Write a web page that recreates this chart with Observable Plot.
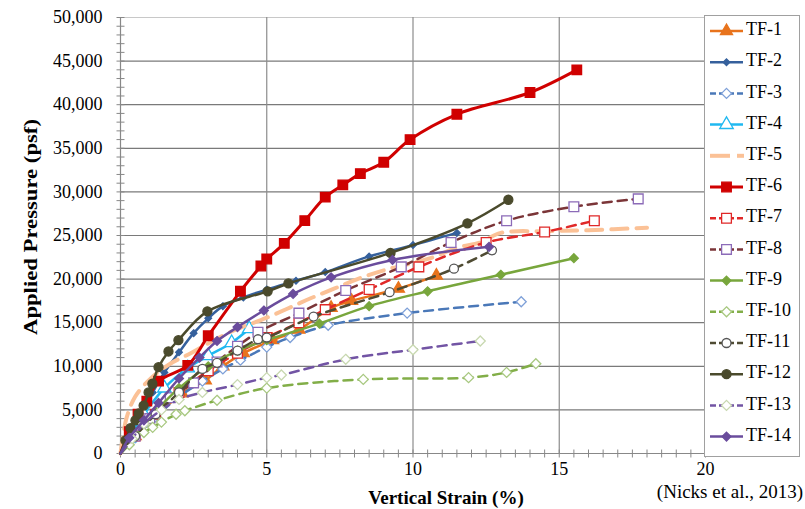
<!DOCTYPE html>
<html>
<head>
<meta charset="utf-8">
<script src="https://cdn.jsdelivr.net/npm/d3@7"></script>
<script src="https://cdn.jsdelivr.net/npm/@observablehq/plot@0.6"></script>
<style>
  html, body { margin: 0; padding: 0; background: #fff; }
  #chart { position: relative; width: 805px; height: 509px; }
  #chart svg text { font-family: "Liberation Serif", "DejaVu Serif", serif; }
</style>
</head>
<body>
<div id="chart"></div>
<script>
// ---------- data (vertical strain %, applied pressure psf) ----------
const tf1  = [[0,0],[0.5,2000],[1.2,4200],[2.1,6900],[2.9,8400],[3.5,10000],[4.2,11500],[5.2,13000],[6.1,14200],[7.2,16700],[7.9,17500],[9.5,18900],[10.8,20400]];
const tf2  = [[0,0],[0.3,2200],[0.7,4500],[1.1,7000],[1.5,9300],[2.0,11600],[2.5,13800],[3.0,15500],[3.5,16900],[4.2,17900],[5.0,18800],[6.0,19800],[7.0,20800],[8.5,22600],[10.0,23900],[11.5,25300]];
const tf3  = [[0,0],[0.5,1800],[1.2,4200],[2.0,6500],[2.8,8300],[3.5,9700],[4.1,10700],[5.0,12200],[5.8,13300],[7.1,14700],[9.8,16100],[13.7,17400]];
const tf4  = [[0,0],[0.3,1800],[0.8,4500],[1.5,7500],[2.3,9800],[3.0,11200],[3.8,12700],[4.4,14300]];
const tf5  = [[0,0],[0.2,4000],[0.5,6500],[1.0,8500],[1.7,10300],[2.4,11500],[3.2,13000],[4.0,14300],[4.8,15300],[5.7,16600],[6.5,17800],[7.3,18900],[8.1,20000],[9.0,21000],[10.6,22400],[11.5,23600],[12.3,24200],[13.0,25300],[14.5,25500],[16.0,25600],[18.0,25900]];
const tf6  = [[0,0],[0.3,2500],[0.6,4500],[0.9,6000],[1.3,8300],[2.3,10100],[3.0,13500],[4.1,18600],[4.8,21500],[5.0,22300],[5.6,24100],[6.3,26700],[7.0,29400],[7.6,30800],[8.2,32100],[9.0,33400],[9.9,36000],[11.5,38900],[14.0,41400],[15.6,44000]];
const tf7  = [[0,0],[0.5,2000],[1.2,4500],[2.0,7000],[3.0,9500],[4.0,11500],[5.0,13300],[6.1,15000],[7.0,16500],[8.5,18800],[10.2,21400],[12.5,24200],[14.5,25400],[16.2,26700]];
const tf8  = [[0,0],[0.5,2000],[1.0,4000],[1.7,6400],[2.5,8100],[3.3,10500],[4.0,12300],[4.7,13900],[6.1,16100],[7.7,18700],[9.6,21400],[11.3,24200],[13.2,26700],[15.5,28300],[17.7,29200]];
const tf9  = [[0,0],[0.5,2000],[1.2,4800],[2.0,7500],[3.0,10000],[4.0,11800],[5.0,13000],[6.8,14900],[8.5,16900],[10.5,18600],[13.0,20500],[15.5,22400]];
const tf10 = [[0,0],[0.3,1000],[0.8,2400],[1.1,3000],[1.4,3600],[1.9,4500],[2.2,4900],[3.3,6100],[5.0,7500],[8.3,8500],[11.9,8700],[13.2,9300],[14.2,10300]];
const tf11 = [[0,0],[0.5,2000],[1.2,4500],[2.0,7000],[2.8,9700],[3.3,10400],[4.0,11800],[4.7,13100],[5.0,13300],[6.6,15700],[9.2,18500],[11.4,21200],[12.7,23300]];
const tf12 = [[0,0],[0.17,1500],[0.34,2900],[0.51,3800],[0.62,4600],[0.79,5500],[0.96,7000],[1.09,8000],[1.3,9900],[1.64,11700],[1.98,13000],[2.97,16300],[5.03,18600],[5.74,19500],[9.23,23000],[11.86,26400],[13.26,29100]];
const tf13 = [[0,0],[0.4,1700],[0.8,3400],[1.4,5000],[2.0,6200],[2.8,7000],[4.0,7900],[5.0,8700],[5.5,9000],[7.7,10800],[10.0,11900],[12.3,12900]];
const tf14 = [[0,0],[0.3,1800],[0.8,3800],[1.3,5800],[2.0,8600],[2.7,11000],[3.3,12900],[4.0,14500],[4.9,16400],[5.9,18300],[7.2,20200],[9.3,22200],[12.6,23700]];

const seriesNames = ["TF-1","TF-2","TF-3","TF-4","TF-5","TF-6","TF-7","TF-8","TF-9","TF-10","TF-11","TF-12","TF-13","TF-14"];
const seriesData  = [tf1,tf2,tf3,tf4,tf5,tf6,tf7,tf8,tf9,tf10,tf11,tf12,tf13,tf14];

const xTicks = [0,5,10,15,20];
const yTicks = [0,5000,10000,15000,20000,25000,30000,35000,40000,45000,50000];
const xTitle = "Vertical Strain (%)";
const yTitle = "Applied Pressure (psf)";
const caption = "(Nicks et al., 2013)";

// ---------- styles ----------
const styles = {
  "TF-1":  {line:"#E8731C", dash:null,  w:2.5, sym:"triangle", fill:"#E8731C", mk:"#E8731C", r:4.5},
  "TF-2":  {line:"#35609C", dash:null,  w:2.5, sym:"diamond2", fill:"#35609C", mk:"#35609C", r:3},
  "TF-3":  {line:"#4A78B8", dash:"9,6", w:2.5, sym:"diamond2", fill:"#fff",    mk:"#7EA0D8", r:4.5},
  "TF-4":  {line:"#1FB8F0", dash:null,  w:2.5, sym:"triangle", fill:"#fff",    mk:"#1FB8F0", r:5},
  "TF-5":  {line:"#FBC196", dash:"16,9",w:4,   sym:null},
  "TF-6":  {line:"#D00000", dash:null,  w:3,   sym:"square",   fill:"#D00000", mk:"#D00000", r:5.4},
  "TF-7":  {line:"#E02828", dash:"9,6", w:2.5, sym:"square",   fill:"#fff",    mk:"#E02828", r:5.5},
  "TF-8":  {line:"#7B3538", dash:"9,6", w:2.5, sym:"square",   fill:"#fff",    mk:"#8C6BB8", r:5.5},
  "TF-9":  {line:"#78A63C", dash:null,  w:2.5, sym:"diamond2", fill:"#78A63C", mk:"#78A63C", r:4},
  "TF-10": {line:"#82AE48", dash:"9,6", w:2.5, sym:"diamond2", fill:"#fff",    mk:"#A8C880", r:4.5},
  "TF-11": {line:"#4F4B33", dash:"9,6", w:2.5, sym:"circle",   fill:"#fff",    mk:"#555",    r:4.5},
  "TF-12": {line:"#4A4A2C", dash:null,  w:2.5, sym:"circle",   fill:"#4A4A2C", mk:"#4A4A2C", r:4.5},
  "TF-13": {line:"#7254A4", dash:"9,6", w:2.5, sym:"diamond2", fill:"#fff",    mk:"#C8D8B0", r:4.5},
  "TF-14": {line:"#6A4C9C", dash:null,  w:2.5, sym:"diamond2", fill:"#6A4C9C", mk:"#6A4C9C", r:4}
};

const FONT = "Liberation Serif, DejaVu Serif, serif";
const hTick = {draw(ctx){ ctx.moveTo(-4,0); ctx.lineTo(4,0); }};
const vTick = {draw(ctx){ ctx.moveTo(0,-4); ctx.lineTo(0,4); }};

const seriesMarks = [];
seriesNames.forEach((name, i) => {
  const s = styles[name];
  const data = seriesData[i];
  seriesMarks.push(Plot.line(data, {
    x: d => d[0], y: d => d[1], stroke: s.line, strokeWidth: s.w,
    strokeDasharray: s.dash || undefined, curve: "catmull-rom", strokeLinejoin: "round"
  }));
  if (s.sym) {
    seriesMarks.push(Plot.dot(data.slice(1), {
      x: d => d[0], y: d => d[1], symbol: s.sym, r: s.r,
      fill: s.fill, stroke: s.mk, strokeWidth: 1.3
    }));
  }
});

const chart = Plot.plot({
  width: 805, height: 509,
  marginLeft: 120, marginRight: 100, marginTop: 17, marginBottom: 56,
  style: {fontFamily: FONT, fontSize: "18px", color: "#000", background: "#fff"},
  x: {domain: [0, 20]},
  y: {domain: [0, 50000]},
  marks: [
    Plot.ruleY(yTicks.filter(v => v > 0 && v < 50000), {stroke: "#7a7a7a", strokeWidth: 1.2}),
    Plot.ruleY([50000], {stroke: "#c8c8c8", strokeWidth: 1}),
    Plot.ruleX(xTicks.filter(v => v > 0 && v < 20), {stroke: "#8c8c8c", strokeWidth: 1.2}),
    Plot.ruleX([20], {stroke: "#c8c8c8", strokeWidth: 1}),
    Plot.ruleX([0], {stroke: "#888", strokeWidth: 1.2}),
    Plot.ruleY([0], {stroke: "#888", strokeWidth: 1.2}),
    Plot.dot(d3.range(0, 50001, 1000), {y: d => d, frameAnchor: "left", symbol: hTick, r: 4, fill: "none", stroke: "#888", strokeWidth: 1}),
    Plot.dot(d3.range(0, 20.01, 0.5), {x: d => d, frameAnchor: "bottom", symbol: vTick, r: 4, fill: "none", stroke: "#888", strokeWidth: 1}),
    Plot.axisY({ticks: yTicks, tickSize: 0, tickPadding: 18, tickFormat: d3.format(","), label: null, fontSize: 18}),
    Plot.axisX({ticks: xTicks, tickSize: 0, tickPadding: 9, tickFormat: d => String(d), label: null, fontSize: 18}),
    ...seriesMarks
  ]
});

document.getElementById("chart").appendChild(chart);

// ---------- titles, caption and legend ----------
const svg = d3.select(chart);
svg.append("text")
  .attr("transform", "translate(33,227) rotate(-90)")
  .attr("text-anchor", "middle").attr("dominant-baseline", "middle")
  .attr("font-weight", "bold").attr("font-size", 19)
  .attr("textLength", 216).attr("lengthAdjust", "spacingAndGlyphs")
  .text(yTitle);
svg.append("text")
  .attr("x", 446).attr("y", 500)
  .attr("text-anchor", "middle").attr("dominant-baseline", "middle")
  .attr("font-weight", "bold").attr("font-size", 19)
  .text(xTitle);
svg.append("text")
  .attr("x", 803).attr("y", 494)
  .attr("text-anchor", "end").attr("dominant-baseline", "middle")
  .attr("font-size", 19)
  .text(caption);

const symMap = {square: d3.symbolSquare, circle: d3.symbolCircle, diamond2: d3.symbolDiamond2, triangle: d3.symbolTriangle};
const lg = svg.append("g");
lg.append("rect").attr("x", 704.5).attr("y", 15.5).attr("width", 95).attr("height", 441)
  .attr("fill", "#fff").attr("stroke", "#a0a0a0").attr("stroke-width", 1);
seriesNames.forEach((name, i) => {
  const s = styles[name];
  const y = 31 + i * 31.2;
  if (name === "TF-5") {
    lg.append("line").attr("x1", 710).attr("x2", 730).attr("y1", y).attr("y2", y)
      .attr("stroke", s.line).attr("stroke-width", s.w);
    lg.append("line").attr("x1", 737).attr("x2", 744).attr("y1", y).attr("y2", y)
      .attr("stroke", s.line).attr("stroke-width", s.w);
  } else {
    lg.append("line").attr("x1", 710).attr("x2", 743).attr("y1", y).attr("y2", y)
      .attr("stroke", s.line).attr("stroke-width", s.w)
      .attr("stroke-dasharray", s.dash ? "6,3" : null);
  }
  if (s.sym) {
    lg.append("path")
      .attr("d", d3.symbol().type(symMap[s.sym]).size(Math.PI * s.r * s.r)())
      .attr("transform", `translate(726.5,${y})`)
      .attr("fill", s.fill).attr("stroke", s.mk).attr("stroke-width", 1.3);
  }
  lg.append("text").attr("x", 746).attr("y", y)
    .attr("text-anchor", "start").attr("dominant-baseline", "middle")
    .attr("font-size", 18)
    .text(name);
});
</script>
</body>
</html>
